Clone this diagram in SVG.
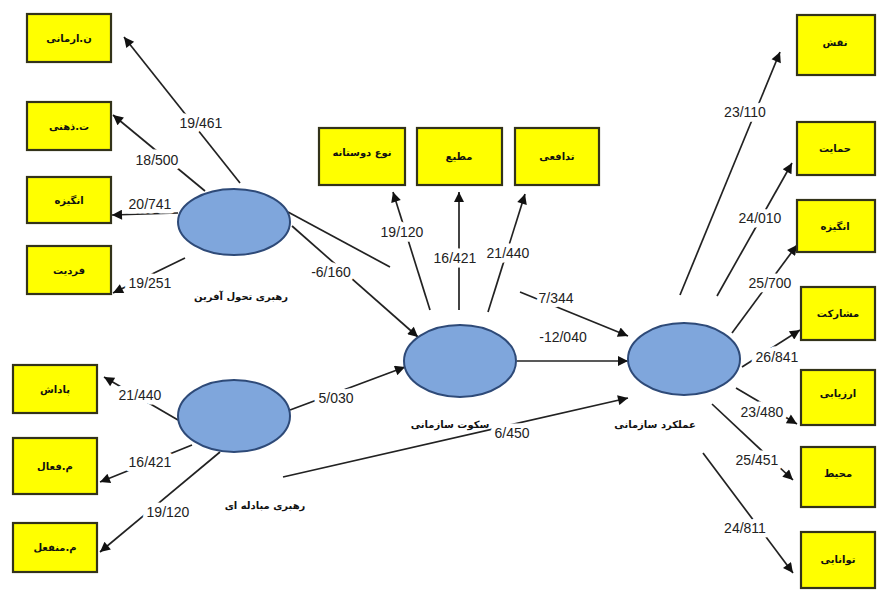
<svg xmlns="http://www.w3.org/2000/svg" width="879" height="592" viewBox="0 0 879 592">
<style>
.box{fill:#ffff00;stroke:#33331a;stroke-width:2.2}
.ell{fill:#7fa6dc;stroke:#2e4a78;stroke-width:2}
.bt{font-family:"DejaVu Sans","Noto Sans",sans-serif;font-weight:bold;font-size:10px;fill:#111;text-anchor:middle;dominant-baseline:central}
.el{font-family:"DejaVu Sans","Noto Sans",sans-serif;font-weight:bold;font-size:10px;fill:#111;text-anchor:middle;dominant-baseline:central}
.ln{stroke:#222;stroke-width:1.7;fill:none}
.num{font-family:"Liberation Sans",Arial,sans-serif;font-size:14px;fill:#222;text-anchor:middle;dominant-baseline:central;stroke:#fff;stroke-width:9;paint-order:stroke;stroke-linejoin:round}
</style>
<defs>
<marker id="ah" viewBox="0 0 10 10" refX="10" refY="5" markerWidth="13" markerHeight="10" markerUnits="userSpaceOnUse" orient="auto"><path d="M0,0 L10,5 L0,10 z" fill="#111"/></marker>
</defs>
<rect width="879" height="592" fill="#fff"/>

<g id="connectors">
<line class="ln" x1="240" y1="183" x2="124" y2="37" marker-end="url(#ah)"/>
<line class="ln" x1="205" y1="191" x2="113" y2="115" marker-end="url(#ah)"/>
<line class="ln" x1="178" y1="213" x2="112" y2="215" marker-end="url(#ah)"/>
<line class="ln" x1="185" y1="258" x2="113" y2="293" marker-end="url(#ah)"/>
<line class="ln" x1="288" y1="212" x2="390" y2="267"/>
<line class="ln" x1="292" y1="226" x2="418" y2="337" marker-end="url(#ah)"/>
<line class="ln" x1="290" y1="410" x2="405" y2="367" marker-end="url(#ah)"/>
<line class="ln" x1="283" y1="477" x2="628" y2="398" marker-end="url(#ah)"/>
<line class="ln" x1="178" y1="420" x2="104" y2="377" marker-end="url(#ah)"/>
<line class="ln" x1="192" y1="445" x2="100" y2="482" marker-end="url(#ah)"/>
<line class="ln" x1="220" y1="452" x2="100" y2="552" marker-end="url(#ah)"/>
<line class="ln" x1="430" y1="310" x2="393" y2="192" marker-end="url(#ah)"/>
<line class="ln" x1="459" y1="310" x2="459" y2="192" marker-end="url(#ah)"/>
<line class="ln" x1="488" y1="312" x2="525" y2="194" marker-end="url(#ah)"/>
<line class="ln" x1="517" y1="361" x2="628" y2="361" marker-end="url(#ah)"/>
<line class="ln" x1="520" y1="292" x2="628" y2="336" marker-end="url(#ah)"/>
<line class="ln" x1="680" y1="295" x2="780" y2="52" marker-end="url(#ah)"/>
<line class="ln" x1="717" y1="296" x2="792" y2="163" marker-end="url(#ah)"/>
<line class="ln" x1="732" y1="333" x2="797" y2="245" marker-end="url(#ah)"/>
<line class="ln" x1="742" y1="367" x2="800" y2="330" marker-end="url(#ah)"/>
<line class="ln" x1="736" y1="388" x2="797" y2="424" marker-end="url(#ah)"/>
<line class="ln" x1="712" y1="404" x2="793" y2="480" marker-end="url(#ah)"/>
<line class="ln" x1="703" y1="453" x2="793" y2="573" marker-end="url(#ah)"/>

<text class="num" x="201" y="123">19/461</text>
<text class="num" x="157" y="160">18/500</text>
<text class="num" x="150" y="204">20/741</text>
<text class="num" x="150" y="283">19/251</text>
<text class="num" x="331" y="272">-6/160</text>
<text class="num" x="336" y="398">5/030</text>
<text class="num" x="512" y="433">6/450</text>
<text class="num" x="140" y="395">21/440</text>
<text class="num" x="150" y="462">16/421</text>
<text class="num" x="168" y="512">19/120</text>
<text class="num" x="402" y="232">19/120</text>
<text class="num" x="455" y="258">16/421</text>
<text class="num" x="508" y="253">21/440</text>
<text class="num" x="563" y="337">-12/040</text>
<text class="num" x="556" y="298">7/344</text>
<text class="num" x="745" y="112">23/110</text>
<text class="num" x="760" y="218">24/010</text>
<text class="num" x="770" y="283">25/700</text>
<text class="num" x="777" y="357">26/841</text>
<text class="num" x="762" y="412">23/480</text>
<text class="num" x="757" y="460">25/451</text>
<text class="num" x="745" y="528">24/811</text>
</g>

<g id="n-armani"><rect class="box" x="27" y="14" width="84" height="48"/><text class="bt" x="69" y="38">ن.ارمانی</text></g>
<g id="t-zehni"><rect class="box" x="27" y="102" width="84" height="48"/><text class="bt" x="69" y="126">ت.ذهنی</text></g>
<g id="angizeh-l"><rect class="box" x="27" y="177" width="84" height="46"/><text class="bt" x="69" y="200">انگیزه</text></g>
<g id="fardiat"><rect class="box" x="27" y="246" width="84" height="48"/><text class="bt" x="69" y="270">فردیت</text></g>

<g id="padash"><rect class="box" x="13" y="365" width="84" height="48"/><text class="bt" x="55" y="389">پاداش</text></g>
<g id="m-faal"><rect class="box" x="13" y="438" width="84" height="56"/><text class="bt" x="55" y="466">م.فعال</text></g>
<g id="m-monfael"><rect class="box" x="13" y="523" width="84" height="49"/><text class="bt" x="55" y="547">م.منفعل</text></g>

<g id="nodoostane"><rect class="box" x="319" y="128" width="86" height="57"/><text class="bt" x="362" y="152">نوع دوستانه</text></g>
<g id="motie"><rect class="box" x="417" y="128" width="85" height="57"/><text class="bt" x="459" y="156">مطیع</text></g>
<g id="tadafoi"><rect class="box" x="515" y="128" width="84" height="57"/><text class="bt" x="557" y="156">تدافعی</text></g>

<g id="naghsh"><rect class="box" x="797" y="15" width="78" height="60"/><text class="bt" x="835" y="42">نقش</text></g>
<g id="hemayat"><rect class="box" x="797" y="122" width="78" height="53"/><text class="bt" x="835" y="148">حمایت</text></g>
<g id="angizeh-r"><rect class="box" x="797" y="200" width="78" height="52"/><text class="bt" x="835" y="226">انگیزه</text></g>
<g id="mosharekat"><rect class="box" x="801" y="287" width="74" height="53"/><text class="bt" x="838" y="313">مشارکت</text></g>
<g id="arzyabi"><rect class="box" x="801" y="370" width="74" height="55"/><text class="bt" x="838" y="393">ارزیابی</text></g>
<g id="mohit"><rect class="box" x="801" y="447" width="74" height="60"/><text class="bt" x="838" y="473">محیط</text></g>
<g id="tavanayi"><rect class="box" x="801" y="532" width="74" height="56"/><text class="bt" x="838" y="559">توانایی</text></g>

<g id="rahbari-tahavol"><ellipse class="ell" cx="234" cy="222" rx="56" ry="33"/><text class="el" x="241" y="296">رهبری تحول آفرین</text></g>
<g id="rahbari-mobadele"><ellipse class="ell" cx="234" cy="416" rx="56" ry="36"/><text class="el" x="265" y="505">رهبری مبادله ای</text></g>
<g id="sokoot"><ellipse class="ell" cx="460" cy="361" rx="56" ry="36"/><text class="el" x="450" y="424">سکوت سازمانی</text></g>
<g id="amalkard"><ellipse class="ell" cx="684" cy="359" rx="56" ry="36"/><text class="el" x="655" y="424">عملکرد سازمانی</text></g>
</svg>
